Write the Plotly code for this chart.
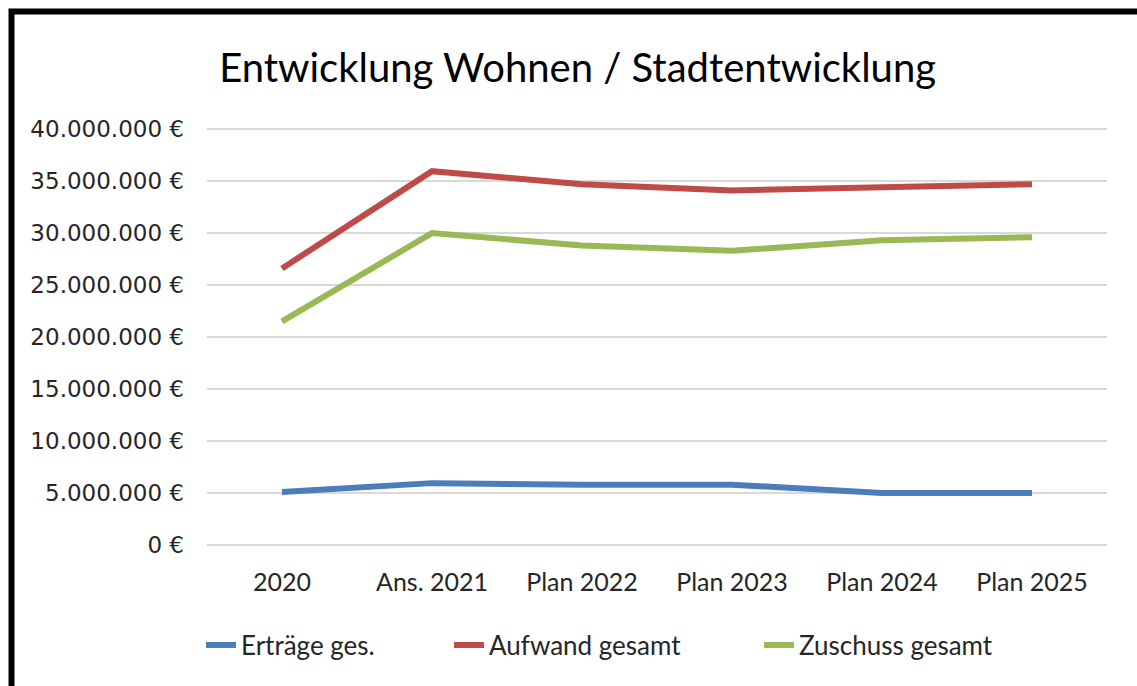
import plotly.graph_objects as go

categories = ["2020", "Ans. 2021", "Plan 2022", "Plan 2023", "Plan 2024", "Plan 2025"]
ertraege = [5100000, 5950000, 5800000, 5800000, 5000000, 5000000]
aufwand = [26600000, 35950000, 34700000, 34100000, 34400000, 34700000]
zuschuss = [21500000, 30000000, 28800000, 28300000, 29300000, 29600000]

series = [
    ("Erträge ges.", ertraege, "#4A7EBB", "legend"),
    ("Aufwand gesamt", aufwand, "#BE4B48", "legend2"),
    ("Zuschuss gesamt", zuschuss, "#98B954", "legend3"),
]

fig = go.Figure()
for name, vals, color, leg in series:
    fig.add_trace(go.Scatter(x=categories, y=vals, name=name, mode="lines", legend=leg,
                             line=dict(color=color, width=6)))

legend_font = dict(family="Lato", size=26, color="#262626")
def legend_at(px):
    return dict(orientation="h", xref="container", yref="container", x=px / 1137, xanchor="left",
                y=1 - 645 / 686, yanchor="middle", font=legend_font, bgcolor="rgba(0,0,0,0)")

# y range padded a little at the top so the 40 Mio gridline is drawn
y_top = 40200000
px_per_unit = 416 / 40000000
plot_h = y_top * px_per_unit

fig.update_layout(
    width=1137, height=686,
    margin=dict(l=207, r=30, t=round(545 - plot_h), b=141, autoexpand=False),
    paper_bgcolor="white", plot_bgcolor="white",
    separators=",.",
    title=dict(text="Entwicklung Wohnen / Stadtentwicklung", x=0.508, xref="container",
               xanchor="center", y=1 - 68 / 686, yref="container", yanchor="middle",
               font=dict(family="Lato", size=40, color="#000000")),
    legend=legend_at(201),
    legend2=legend_at(449),
    legend3=legend_at(759),
    showlegend=True,
)

fig.update_xaxes(range=[-0.5, 5.5], showgrid=False, showline=False, ticks="",
                 tickfont=dict(family="Lato", size=25, color="#262626"), ticklabelstandoff=20)
fig.update_yaxes(range=[0, y_top], tick0=0, dtick=5000000, tickformat=",.0f", ticksuffix=" €",
                 showgrid=True, gridcolor="#D9D9D9", gridwidth=2,
                 zeroline=True, zerolinecolor="#D9D9D9", zerolinewidth=2,
                 showline=False, ticks="",
                 tickfont=dict(family="DejaVu Sans", size=23, color="#262626"), ticklabelstandoff=22)

# black frame round the picture
fig.add_shape(type="rect", xref="paper", yref="paper",
              x0=(11.5 - 207) / 900, x1=(1150 - 207) / 900,
              y0=(545 - 700) / plot_h, y1=1 + (545 - plot_h - 11.5) / plot_h,
              line=dict(color="black", width=6), fillcolor="rgba(0,0,0,0)", layer="above")

fig.write_html("out.html", config={"displayModeBar": False},
               post_script="document.body.style.margin='0';")
